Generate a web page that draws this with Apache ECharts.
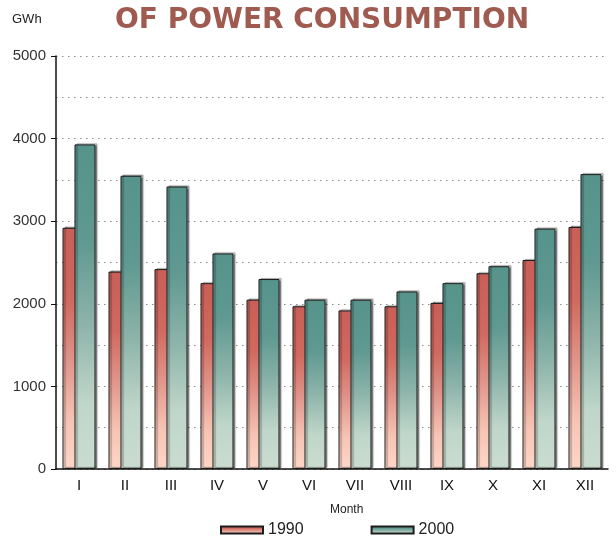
<!DOCTYPE html>
<html>
<head>
<meta charset="utf-8">
<script src="https://cdn.jsdelivr.net/npm/echarts@6/dist/echarts.min.js"></script>
<style>
  html, body { margin: 0; padding: 0; background: #fff; }
  #chart { width: 616px; height: 542px; }
</style>
</head>
<body>
<div id="chart"></div>
<script>
const months = ["I", "II", "III", "IV", "V", "VI", "VII", "VIII", "IX", "X", "XI", "XII"];
const values1990 = [2920, 2390, 2420, 2250, 2050, 1970, 1920, 1970, 2010, 2370, 2530, 2930];
const values2000 = [3930, 3550, 3420, 2610, 2300, 2050, 2050, 2150, 2250, 2455, 2910, 3570];
const yTicks = [0, 1000, 2000, 3000, 4000, 5000];

const dotted = { color: "#8c8c8c", width: 1, type: [1.5, 4.5] };

function grad(stops) {
  return new echarts.graphic.LinearGradient(0, 0, 0, 1,
    stops.map(([offset, color]) => ({ offset, color })));
}

const red = grad([[0, "#c95f58"], [0.3, "#d0695f"], [0.55, "#e0948a"], [0.8, "#f6c4b4"], [1, "#fdd6c8"]]);
const teal = grad([[0, "#56938b"], [0.3, "#5f9991"], [0.55, "#8cb3a9"], [0.8, "#c0d6ca"], [1, "#cadccf"]]);

const barStyle = {
  borderColor: "#1c1c1c",
  borderWidth: 1,
  shadowColor: "rgba(0,0,0,0.4)",
  shadowBlur: 1,
  shadowOffsetX: 2,
  shadowOffsetY: -1,
};

const chart = echarts.init(document.getElementById("chart"));
chart.setOption({
  animation: false,
  backgroundColor: "#fff",
  title: {
    text: "OF POWER CONSUMPTION",
    left: 110,
    top: 2,
    textStyle: { fontFamily: "DejaVu Sans", fontWeight: 900, fontSize: 28, color: "#a05b51" },
  },
  graphic: [
    { type: "text", left: 12, top: 13, style: { text: "GWh", font: "13px 'Liberation Sans'", fill: "#222" } },
    { type: "text", left: 330, top: 504, style: { text: "Month", font: "12px 'Liberation Sans'", fill: "#222" } },
  ],
  legend: {
    data: ["1990", "2000"],
    left: 215,
    top: 517,
    itemWidth: 42,
    itemHeight: 7,
    itemGap: 67,
    icon: "rect",
    textStyle: { fontFamily: "Liberation Sans", fontSize: 16, color: "#222" },
  },
  grid: { left: 56, right: 8, top: 56, bottom: 73 },
  xAxis: {
    type: "category",
    data: months,
    axisLine: { lineStyle: { color: "#111", width: 1.5 } },
    axisTick: { show: false },
    axisLabel: { fontFamily: "Liberation Sans", fontSize: 15, color: "#111", margin: 9 },
  },
  yAxis: {
    type: "value",
    min: 0,
    max: 5000,
    interval: 1000,
    axisLine: { show: true, lineStyle: { color: "#111", width: 1.5 } },
    axisTick: { show: true, length: 5, lineStyle: { color: "#111" } },
    axisLabel: {
      fontFamily: "Liberation Sans", fontSize: 15, color: "#333", margin: 10,
      formatter: (v) => (yTicks.includes(v) ? String(v) : ""),
    },
    splitLine: { show: true, lineStyle: dotted },
    minorTick: { show: false, splitNumber: 2 },
    minorSplitLine: { show: true, lineStyle: dotted },
  },
  series: [
    { name: "1990", type: "bar", data: values1990, barWidth: 21, barGap: "-43%", itemStyle: Object.assign({ color: red }, barStyle) },
    { name: "2000", type: "bar", data: values2000, barWidth: 21, barGap: "-43%", itemStyle: Object.assign({ color: teal }, barStyle) },
  ],
});
</script>
</body>
</html>
